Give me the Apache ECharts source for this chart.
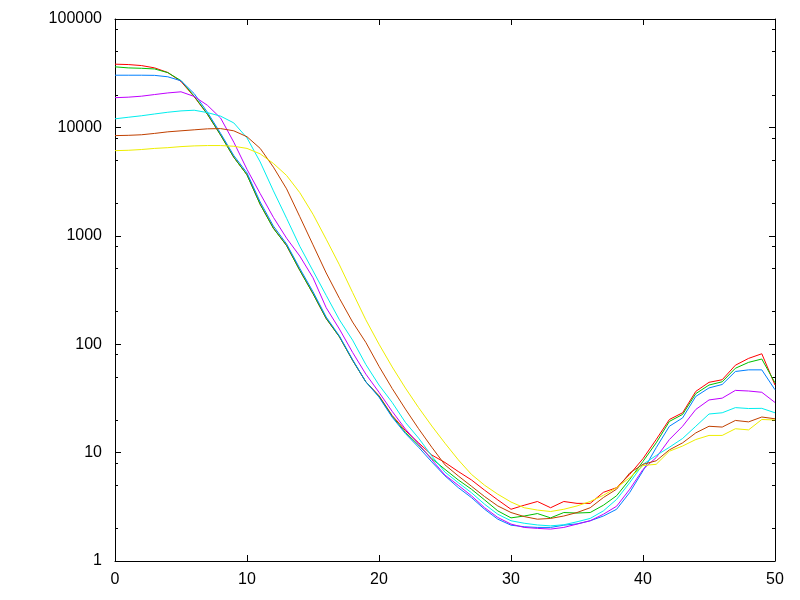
<!DOCTYPE html>
<html>
<head>
<meta charset="utf-8">
<script src="https://cdn.jsdelivr.net/npm/echarts@6/dist/echarts.min.js"></script>
<style>
html,body{margin:0;padding:0;background:#fff;}
#chart{width:800px;height:600px;}
</style>
</head>
<body>
<div id="chart"></div>
<script>
var xValues = [0,1,2,3,4,5,6,7,8,9,10,11,12,13,14,15,16,17,18,19,20,21,22,23,24,25,26,27,28,29,30,31,32,33,34,35,36,37,38,39,40,41,42,43,44,45,46,47,48,49,50];

var s1 = [38300,38000,37200,35400,32100,26500,19200,13200,8500,5300,3650,1950,1180,810,480,292,172,117,71,45,33.5,22,16,12.3,9.5,8.1,6.7,5.6,4.5,3.66,3.0,3.27,3.54,3.1,3.54,3.4,3.4,4.3,4.75,6.3,8.8,13.2,20.2,23.3,36.7,44.5,47,64,74,81.6,42];
var s2 = [36200,35400,35100,34600,32000,27000,19400,13300,8500,5300,3650,1950,1170,815,480,293,173,117,71,45,33,21.6,15.4,11.7,8.8,7.0,5.6,4.6,3.66,2.9,2.5,2.6,2.74,2.5,2.8,2.77,2.8,3.27,4.0,5.67,8.3,12.3,19.4,22.5,35,42,45,60,68,73,44];
var s3 = [30300,30300,30300,30200,29300,26900,20500,13800,8800,5500,3800,2050,1230,840,500,305,178,119,72,45,32.5,21.2,15.0,11.2,8.2,6.1,4.76,3.85,3.0,2.43,2.14,2.07,2.04,2.04,2.14,2.2,2.35,2.6,3.0,4.3,6.8,11.1,17.5,20.9,33,39.5,42.5,56,58,58,38];
var s4 = [18800,19000,19400,20100,20800,21300,19300,16000,12200,7300,4100,2450,1480,950,650,410,217,138,84,53,36,24,16.5,12,8.6,6.2,5.0,4.0,3.1,2.52,2.19,2.04,2.0,1.97,2.04,2.19,2.35,2.7,3.2,4.6,7.0,9.0,13.2,17.5,25,30.6,31.8,37.5,37,36,29];
var s5 = [12000,12400,12800,13300,13800,14200,14400,13700,12700,11000,8000,4800,2600,1450,800,475,282,168,109,65,42,29,19,13.6,9.3,6.6,5.28,4.27,3.34,2.7,2.35,2.23,2.15,2.11,2.16,2.3,2.47,2.9,3.7,5.3,7.8,9.4,11.2,13.5,17.5,22.7,23.3,26,25.5,25.6,23.3];
var s6 = [8400,8450,8550,8800,9100,9300,9500,9700,9750,9300,8200,6400,4300,2710,1500,825,454,265,160,104,62.5,39,25.2,16.6,11.2,7.7,6.1,4.9,3.93,3.22,2.8,2.57,2.43,2.47,2.6,2.8,3.1,3.85,4.6,6.5,7.8,8.4,10.6,12.3,15.2,17.5,17.2,19.8,19.2,21.3,20.5];
var s7 = [6100,6150,6250,6400,6500,6650,6750,6800,6800,6700,6400,5700,4650,3600,2500,1580,930,540,300,168,100,61.7,39.4,26,17.6,12.2,8.6,6.3,5.0,4.13,3.5,3.1,2.95,2.86,3.0,3.22,3.54,4.04,4.75,5.87,7.6,7.8,10.3,11.5,13.2,14.4,14.4,16.6,16.2,20.2,20];

var seriesData = [s1, s2, s3, s4, s5, s6, s7];
var seriesColors = ['#ff0000', '#00c000', '#0080ff', '#c000ff', '#00eeee', '#c04000', '#eeee00'];

var yMinorTickValues = [2,5,8,20,50,80,200,500,800,2000,5000,8000,20000,50000,80000];
var yMinorTickPositions = yMinorTickValues.map(function (v) { return Math.log10(v); });

var FONT = 'Liberation Sans, Arial, sans-serif';
var black = '#000000';

var chart = echarts.init(document.getElementById('chart'), null, {renderer: 'canvas'});

function majorY(pos, showLabel) {
  return {
    type: 'log', logBase: 10, min: 1, max: 100000, position: pos,
    axisLine: {show: true, lineStyle: {color: black, width: 1}},
    axisTick: {show: true, inside: true, length: 6, lineStyle: {color: black, width: 1}},
    axisLabel: {show: showLabel, color: black, fontSize: 16, fontFamily: FONT, margin: 13,
      formatter: function (v) { return String(Math.round(v)); }},
    splitLine: {show: false}
  };
}
function minorY(pos) {
  return {
    type: 'value', min: 0, max: 5, position: pos,
    axisLine: {show: false},
    axisTick: {show: true, inside: true, length: 3, customValues: yMinorTickPositions, lineStyle: {color: black, width: 1}},
    axisLabel: {show: false},
    splitLine: {show: false}
  };
}

var option = {
  animation: false,
  backgroundColor: '#ffffff',
  grid: {left: 115, right: 25, top: 19, bottom: 39, containLabel: false},
  xAxis: [
    {
      type: 'value', min: 0, max: 50, interval: 10, position: 'bottom',
      axisLine: {show: true, onZero: false, lineStyle: {color: black, width: 1}},
      axisTick: {show: true, inside: true, length: 6, lineStyle: {color: black, width: 1}},
      axisLabel: {show: true, color: black, fontSize: 16, fontFamily: FONT, margin: 11},
      splitLine: {show: false}
    },
    {
      type: 'value', min: 0, max: 50, interval: 10, position: 'top',
      axisLine: {show: true, onZero: false, lineStyle: {color: black, width: 1}},
      axisTick: {show: true, inside: true, length: 6, lineStyle: {color: black, width: 1}},
      axisLabel: {show: false},
      splitLine: {show: false}
    }
  ],
  yAxis: [majorY('left', true), minorY('left'), majorY('right', false), minorY('right')],
  series: seriesData.map(function (s, k) {
    return {
      type: 'line', xAxisIndex: 0, yAxisIndex: 0,
      symbol: 'none', showSymbol: false, smooth: false,
      lineStyle: {color: seriesColors[k], width: 1},
      itemStyle: {color: seriesColors[k]},
      data: xValues.map(function (x, i) { return [x, s[i]]; })
    };
  })
};
chart.setOption(option);
</script>
</body>
</html>
